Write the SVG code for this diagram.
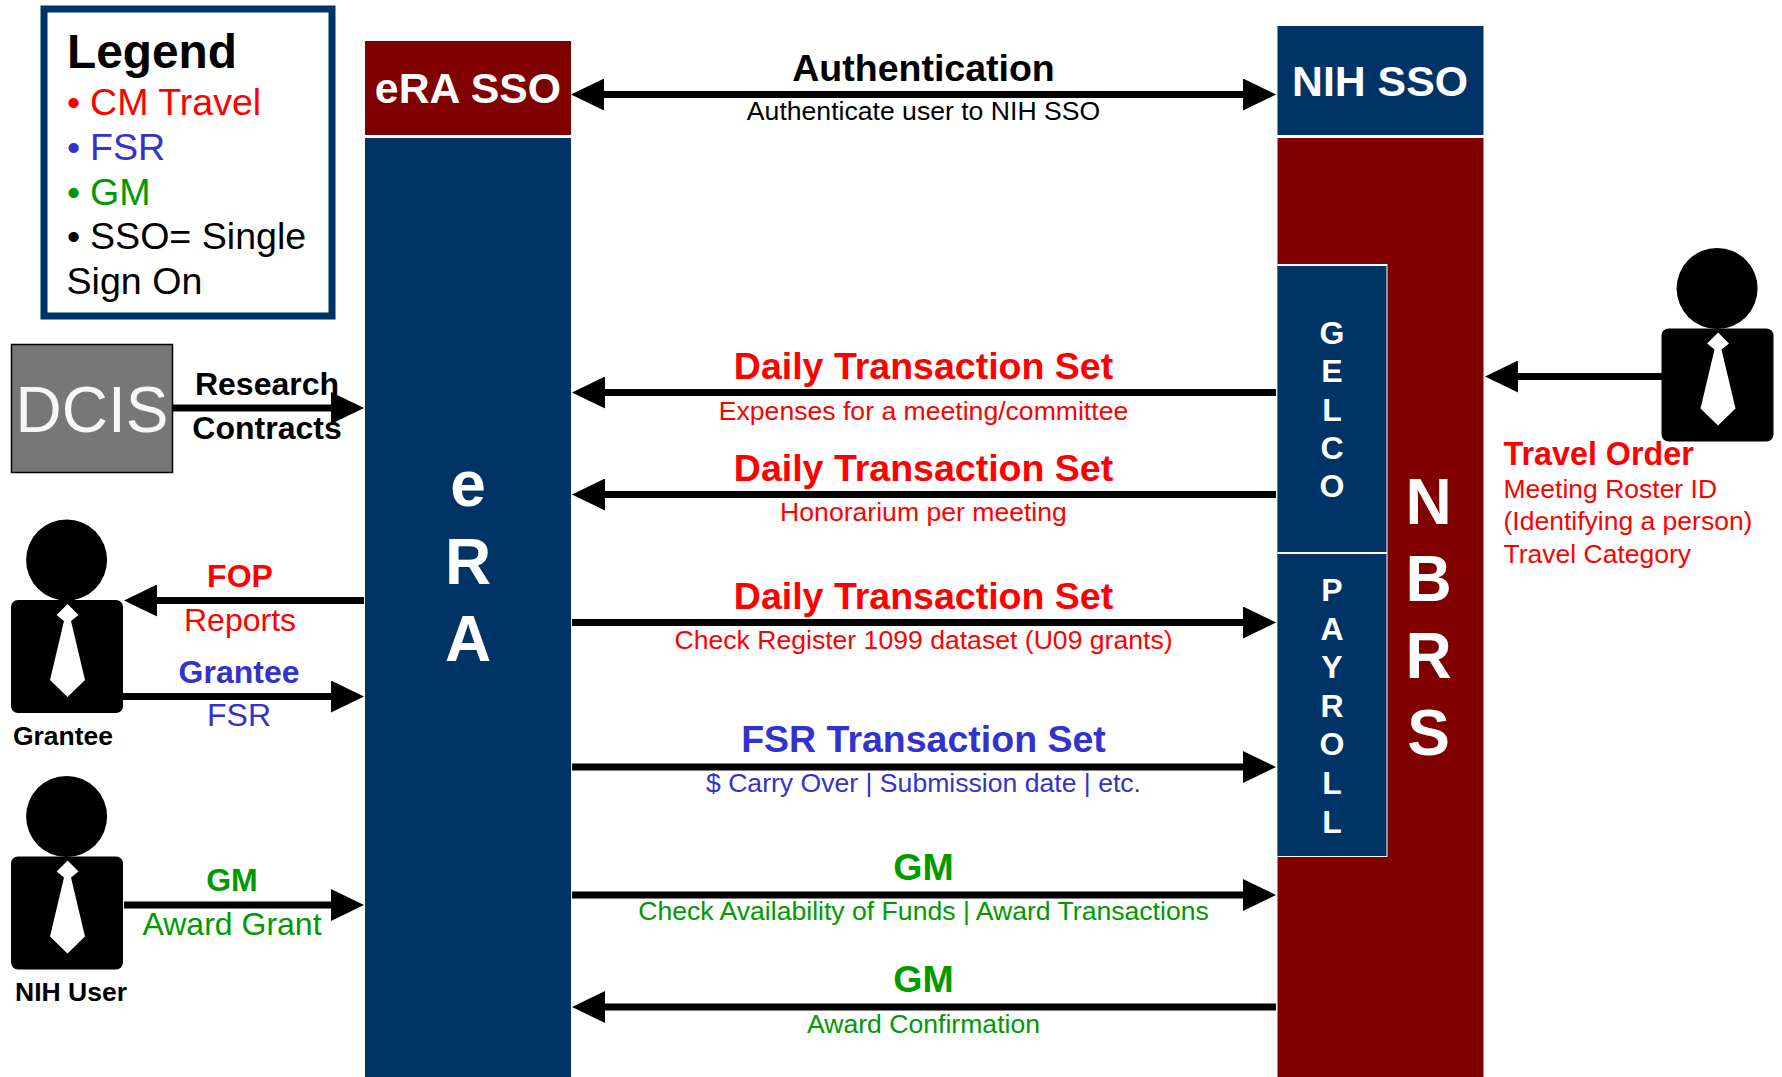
<svg xmlns="http://www.w3.org/2000/svg" width="1782" height="1077" viewBox="0 0 1782 1077">
<style>
text{font-family:"Liberation Sans",Arial,sans-serif}
.b{font-weight:700}
.m{text-anchor:middle}
.r{fill:#ff0000}.u{fill:#3333cc}.g{fill:#009900}.k{fill:#000}.w{fill:#fff}
.h{font-size:37.5px;font-weight:700;text-anchor:middle}
.s{font-size:26.6px;text-anchor:middle}
.t{font-size:32px;text-anchor:middle}
.tb{font-size:32px;font-weight:700;text-anchor:middle}
.l{font-size:37.6px}
.big{font-size:64px;font-weight:700;text-anchor:middle;fill:#fff}
.sm{font-size:32px;font-weight:700;text-anchor:middle;fill:#fff}
.sso{font-size:42.8px;font-weight:700;text-anchor:middle;fill:#fff}
.navy{fill:#003366}.red{fill:#800000}
.c line{stroke:#000;stroke-width:7}
.rt{marker-end:url(#a)}
.bi{marker-start:url(#s);marker-end:url(#a)}
</style>
<defs>
<marker id="a" markerUnits="userSpaceOnUse" markerWidth="33" markerHeight="32" refX="0" refY="16" orient="auto"><path d="M0,0L33,16L0,32Z"/></marker>
<marker id="s" markerUnits="userSpaceOnUse" markerWidth="33" markerHeight="32" refX="0" refY="16" orient="auto-start-reverse"><path d="M0,0L33,16L0,32Z"/></marker>
<g id="person">
<ellipse cx="55.6" cy="-40" rx="40.5" ry="40.5"/>
<rect x="0" y="0" width="112" height="113" rx="7"/>
<path fill="#fff" d="M56.6,4L67.5,15L60,21L53,21L45.6,15ZM53,21L60,21L74,80L56.5,97L39,80Z"/>
</g>
</defs>
<rect width="1782" height="1077" fill="#fff"/>
<g id="legend">
<rect x="44" y="9" width="288" height="307" fill="#fff" stroke="#003366" stroke-width="7"/>
<text class="b" x="67" y="68" font-size="47.8">Legend</text>
<text class="l r" x="67" y="115">• <tspan x="90">CM Travel</tspan></text>
<text class="l u" x="67" y="159.500">• <tspan x="90">FSR</tspan></text>
<text class="l g" x="67" y="204.500">• <tspan x="90">GM</tspan></text>
<text class="l k" x="67" y="249">• <tspan x="90">SSO= Single</tspan></text>
<text class="l k" x="66.500" y="294">Sign On</text>
</g>
<g id="era-sso"><rect class="red" x="365" y="41" width="206" height="94"/><text class="sso" x="468" y="103">eRA SSO</text></g>
<g id="era"><rect class="navy" x="365" y="138" width="206" height="939"/>
<text class="big" x="468" y="506">e</text><text class="big" x="468" y="584">R</text><text class="big" x="468" y="661">A</text></g>
<g id="nih-sso"><rect class="navy" x="1277.5" y="26" width="206" height="109"/><text class="sso" x="1380" y="95.500">NIH SSO</text></g>
<g id="nbrs"><rect class="red" x="1277.5" y="138" width="206" height="939"/>
<text class="big" x="1428.5" y="524">N</text><text class="big" x="1428.5" y="601">B</text><text class="big" x="1428.5" y="678">R</text><text class="big" x="1428.5" y="755">S</text></g>
<g id="gelco"><rect x="1277.5" y="264" width="110" height="289" fill="#fff"/><rect class="navy" x="1277.5" y="266" width="109" height="286"/>
<text class="sm" x="1332" y="344">G</text><text class="sm" x="1332" y="382">E</text><text class="sm" x="1332" y="420.500">L</text><text class="sm" x="1332" y="459">C</text><text class="sm" x="1332" y="497">O</text></g>
<g id="payroll"><rect x="1277.5" y="553" width="110" height="304" fill="#fff"/><rect class="navy" x="1277.5" y="554" width="109" height="302"/>
<text class="sm" x="1332" y="601">P</text><text class="sm" x="1332" y="640">A</text><text class="sm" x="1332" y="678">Y</text><text class="sm" x="1332" y="716.500">R</text><text class="sm" x="1332" y="755">O</text><text class="sm" x="1332" y="793.500">L</text><text class="sm" x="1332" y="832.500">L</text></g>
<g id="dcis"><rect x="11.500" y="344.500" width="161" height="128" fill="#777" stroke="#000" stroke-width="1.500"/><text x="92" y="432" font-size="64" text-anchor="middle" fill="#f7f7f7">DCIS</text></g>
<g id="grantee"><use href="#person" x="11" y="600"/><text class="b m" x="63" y="745" font-size="26.500">Grantee</text></g>
<g id="nih-user"><use href="#person" x="11" y="856.500"/><text class="b m" x="71" y="1001" font-size="26.500">NIH User</text></g>
<g id="traveler"><use href="#person" x="1661.500" y="328.500"/></g>
<g id="connectors" class="c">
<line class="bi" x1="604" y1="94.500" x2="1243" y2="94.500"/>
<line class="rt" x1="173" y1="408" x2="331" y2="408"/>
<line class="rt" x1="364" y1="600.500" x2="157" y2="600.500"/>
<line class="rt" x1="123" y1="696.500" x2="331" y2="696.500"/>
<line class="rt" x1="124" y1="905" x2="331" y2="905"/>
<line class="rt" x1="1276" y1="392.500" x2="605" y2="392.500"/>
<line class="rt" x1="1276" y1="494.500" x2="605" y2="494.500"/>
<line class="rt" x1="572" y1="622.500" x2="1243" y2="622.500"/>
<line class="rt" x1="572" y1="767" x2="1243" y2="767"/>
<line class="rt" x1="572" y1="895" x2="1243" y2="895"/>
<line class="rt" x1="1276" y1="1007" x2="605" y2="1007"/>
<line class="rt" x1="1662" y1="376.500" x2="1518" y2="376.500"/>
</g>
<g id="labels">
<text class="h k" x="923.500" y="80.500">Authentication</text>
<text class="s k" x="923.500" y="120">Authenticate user to NIH SSO</text>
<text class="h r" x="923.500" y="379">Daily Transaction Set</text>
<text class="s r" x="923.500" y="420">Expenses for a meeting/committee</text>
<text class="h r" x="923.500" y="480.500">Daily Transaction Set</text>
<text class="s r" x="923.500" y="521">Honorarium per meeting</text>
<text class="h r" x="923.500" y="608.500">Daily Transaction Set</text>
<text class="s r" x="923.500" y="649">Check Register 1099 dataset (U09 grants)</text>
<text class="h u" x="923.500" y="752">FSR Transaction Set</text>
<text class="s u" x="923.500" y="792">$ Carry Over | Submission date | etc.</text>
<text class="h g" x="923.500" y="880">GM</text>
<text class="s g" x="923.500" y="920">Check Availability of Funds | Award Transactions</text>
<text class="h g" x="923.500" y="992">GM</text>
<text class="s g" x="923.500" y="1033">Award Confirmation</text>
<text class="tb k" x="267" y="395">Research</text>
<text class="tb k" x="267" y="439">Contracts</text>
<text class="tb r" x="240" y="587">FOP</text>
<text class="t r" x="240" y="631">Reports</text>
<text class="tb u" x="239" y="683">Grantee</text>
<text class="t u" x="239" y="726">FSR</text>
<text class="tb g" x="232" y="891">GM</text>
<text class="t g" x="232" y="935">Award Grant</text>
<text class="b r" x="1503.500" y="465" font-size="32.300">Travel Order</text>
<text class="r" x="1503.500" y="498" font-size="26.500">Meeting Roster ID</text>
<text class="r" x="1503.500" y="530" font-size="26.500">(Identifying a person)</text>
<text class="r" x="1503.500" y="562.500" font-size="26.500">Travel Category</text>
</g>
</svg>
